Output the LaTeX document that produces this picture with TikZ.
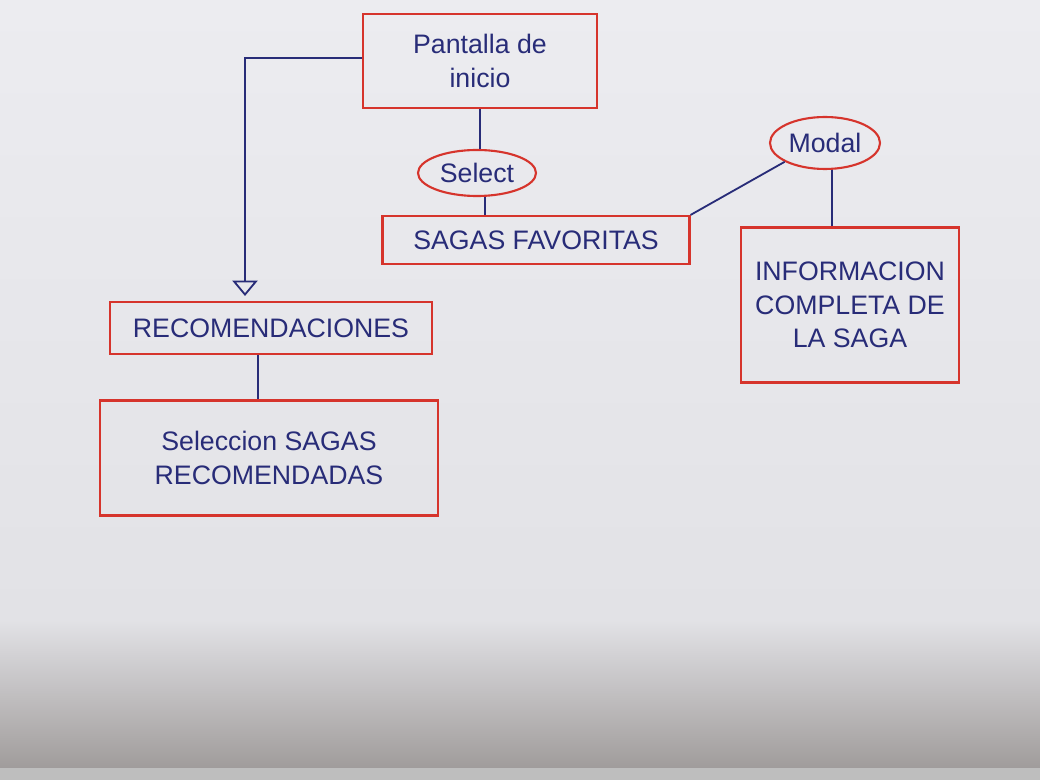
\documentclass[tikz,border=0pt]{standalone}
\usepackage{fontspec}
\setmainfont{Liberation Sans}
\usetikzlibrary{arrows.meta,shapes.geometric}
\definecolor{paperA}{RGB}{236,236,240}
\definecolor{paperB}{RGB}{226,226,230}
\definecolor{paperC}{RGB}{160,156,155}
\definecolor{strip}{RGB}{190,190,190}
\definecolor{boxred}{RGB}{214,52,44}
\definecolor{ink}{RGB}{40,44,120}
\tikzset{
  x=0.025cm, y=-0.025cm,
  every node/.style={text=ink, font=\fontsize{19}{24}\selectfont, align=center, inner sep=0pt},
  rbox/.style={draw=boxred, line width=1.5pt, rectangle},
  roval/.style={draw=boxred, line width=1.5pt, ellipse},
  wire/.style={draw=ink, line width=1.3pt},
  openarrow/.style={wire, -{Triangle[open, width=18pt, length=11pt, line width=1.3pt]}}
}
\begin{document}
\begin{tikzpicture}
\useasboundingbox (0,0) rectangle (1040,780);
\shade[top color=paperA, bottom color=paperB] (0,0) rectangle (1040,620);
\shade[top color=paperB, bottom color=paperC] (0,620) rectangle (1040,768);
\fill[strip] (0,768) rectangle (1040,780);

\node[rbox, minimum width=234*0.025cm, minimum height=94*0.025cm] (pantalla) at (480,61) {Pantalla de\\ inicio};
\node[roval, minimum width=118*0.025cm, minimum height=46*0.025cm] (select) at (477,173) {Select};
\node[rbox, minimum width=307*0.025cm, minimum height=48*0.025cm] (sagas) at (536,240) {SAGAS FAVORITAS};
\node[roval, minimum width=110*0.025cm, minimum height=52*0.025cm] (modal) at (825,143) {Modal};
\node[rbox, minimum width=218*0.025cm, minimum height=155*0.025cm] (info) at (850,305) {INFORMACION\\ COMPLETA DE\\ LA SAGA};
\node[rbox, minimum width=322*0.025cm, minimum height=52*0.025cm] (reco) at (271,328) {RECOMENDACIONES};
\node[rbox, minimum width=338*0.025cm, minimum height=115*0.025cm] (sel) at (269,458) {Seleccion SAGAS\\ RECOMENDADAS};

\coordinate (corner) at (245,58);
\coordinate (arrend) at (245,296);
\draw[openarrow] (pantalla.west |- corner) -- (corner) -- (arrend);
\draw[wire] (pantalla.south -| 480,0) -- (select.north -| 480,0);
\draw[wire] (select.south -| 485,0) -- (sagas.north -| 485,0);
\draw[wire] (sagas.north east) -- (modal.205);
\draw[wire] (modal.south -| 832,0) -- (info.north -| 832,0);
\draw[wire] (reco.south -| 258,0) -- (sel.north -| 258,0);
\end{tikzpicture}
\end{document}
